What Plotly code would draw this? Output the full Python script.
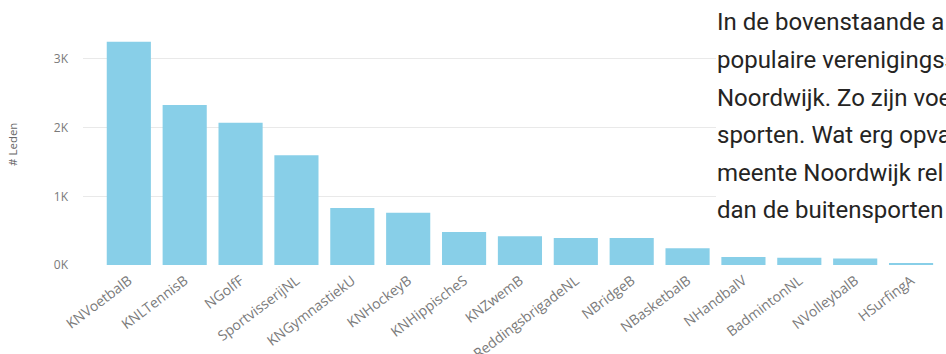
import plotly.graph_objects as go

categories = ["KNVoetbalB", "KNLTennisB", "NGolfF", "SportvisserijNL", "KNGymnastiekU",
              "KNHockeyB", "KNHippischeS", "KNZwemB", "ReddingsbrigadeNL", "NBridgeB",
              "NBasketbalB", "NHandbalV", "BadmintonNL", "NVolleybalB", "HSurfingA"]
leden = [3250, 2330, 2070, 1600, 830, 760, 480, 420, 395, 395, 245, 115, 105, 95, 30]

y_tickvals = [0, 1000, 2000, 3000]
y_ticktext = ["0K", "1K", "2K", "3K"]

text_lines = [
    "In de bovenstaande a",
    "populaire verenigingss",
    "Noordwijk. Zo zijn voe",
    "sporten. Wat erg opva",
    "meente Noordwijk rel",
    "dan de buitensporten",
]

W, H = 946, 354
L, R, T, B = 83, 7, 32, 89
pw, ph = W - L - R, H - T - B

fig = go.Figure()
fig.add_trace(go.Bar(x=categories, y=leden, marker=dict(color="#88CFE8", line=dict(width=0)),
                     hoverinfo="x+y"))

def px_x(x):
    return (x - L) / pw

def px_y(y):
    return 1 - (y - T) / ph

shapes = [dict(type="rect", xref="paper", yref="paper", x0=px_x(716), x1=px_x(960),
               y0=px_y(228), y1=px_y(-5), fillcolor="white", line=dict(width=0), layer="above")]

annotations = []
baselines = [30, 68, 105.5, 143, 180.5, 218]
for line, bl in zip(text_lines, baselines):
    annotations.append(dict(text=line, xref="paper", yref="paper", x=px_x(716), y=px_y(bl - 8),
                            xanchor="left", yanchor="middle", showarrow=False,
                            font=dict(family="Roboto", size=24, color="#252423"),
                            borderpad=0))
annotations.append(dict(text="# Leden", xref="paper", yref="paper", x=px_x(12), y=px_y(145),
                        textangle=-90, xanchor="center", yanchor="middle", showarrow=False,
                        font=dict(family="Open Sans", size=11.5, color="#666666")))

fig.update_layout(
    width=W, height=H,
    margin=dict(l=L, r=R, t=T, b=B, autoexpand=False),
    paper_bgcolor="white", plot_bgcolor="white",
    bargap=0.21,
    showlegend=False,
    shapes=shapes,
    annotations=annotations,
    xaxis=dict(range=[-0.82, 14.5], tickangle=-37, showgrid=False, zeroline=False, showline=False,
               ticks="", ticklabelstandoff=4,
               tickfont=dict(family="Open Sans", size=14, color="#7a7a7a")),
    yaxis=dict(range=[0, ph / 68.67 * 1000], tickvals=y_tickvals, ticktext=y_ticktext,
               showgrid=True, gridcolor="#E9E9E9", gridwidth=1, zeroline=False, showline=False,
               ticks="", ticklabelstandoff=14,
               tickfont=dict(family="Open Sans", size=12, color="#7a7a7a")),
)

fig.write_html("out.html")
